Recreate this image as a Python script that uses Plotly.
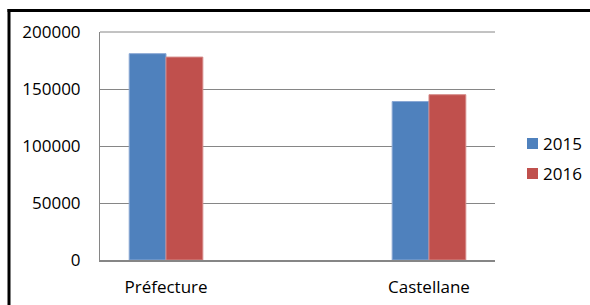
import plotly.graph_objects as go

categories = ["Préfecture", "Castellane"]
series_names = ["2015", "2016"]
values_2015 = [181000, 139000]
values_2016 = [178000, 145000]
y_ticks = [0, 50000, 100000, 150000, 200000]

colors = ["#4F81BD", "#C0504D"]
edge = ["#8AA8D4", "#D58A88"]

fig = go.Figure()
for name, vals, c, e in zip(series_names, [values_2015, values_2016], colors, edge):
    fig.add_trace(go.Bar(x=categories, y=vals, name=name, showlegend=False,
                         marker=dict(color=c, line=dict(color=e, width=1))))

L, R, T, B = 100, 95, 32, 45
W, H = 590, 305
pw, ph = W - L - R, H - T - B

def px_x(p):
    return (p - L) / pw

def px_y(p):
    return (H - B - p) / ph

shapes = [
    dict(type="line", xref="paper", yref="paper", x0=px_x(9), x1=px_x(9),
         y0=px_y(9), y1=px_y(310), line=dict(color="black", width=3)),
    dict(type="line", xref="paper", yref="paper", x0=px_x(7.5), x1=px_x(595),
         y0=px_y(10.5), y1=px_y(10.5), line=dict(color="black", width=3)),
    dict(type="line", xref="paper", yref="paper", x0=0, x1=1,
         y0=1, y1=1, line=dict(color="#868686", width=1)),
]
annotations = []
legend_y = [143.5, 173.5]
for name, c, yc in zip(series_names, colors, legend_y):
    shapes.append(dict(type="rect", xref="paper", yref="paper",
                       x0=px_x(527), x1=px_x(538), y0=px_y(yc - 5.5), y1=px_y(yc + 5.5),
                       fillcolor=c, line=dict(width=0)))
    annotations.append(dict(xref="paper", yref="paper", x=px_x(541), y=px_y(yc),
                            xanchor="left", yanchor="middle", text=name, showarrow=False,
                            font=dict(size=17, color="black")))

fig.update_layout(
    width=W, height=H,
    margin=dict(l=L, r=R, t=T, b=B, autoexpand=False),
    paper_bgcolor="white", plot_bgcolor="white",
    barmode="group", bargap=0.72, bargroupgap=0,
    font=dict(family="Open Sans", size=17, color="black"),
    showlegend=False,
    xaxis=dict(type="category", range=[-0.251, 1.251], showgrid=False,
               showline=True, linecolor="#868686", linewidth=2,
               ticks="", ticklabelstandoff=11, fixedrange=True, automargin=False),
    yaxis=dict(range=[0, 200000], tickvals=y_ticks, ticktext=[str(v) for v in y_ticks],
               showgrid=True, gridcolor="#868686", gridwidth=1,
               showline=True, linecolor="#868686", linewidth=1,
               zeroline=False, ticks="", ticklabelstandoff=15, automargin=False),
    shapes=shapes,
    annotations=annotations,
)

fig.write_html("out.html", config={"displayModeBar": False},
               post_script="document.body.style.margin='0';")
